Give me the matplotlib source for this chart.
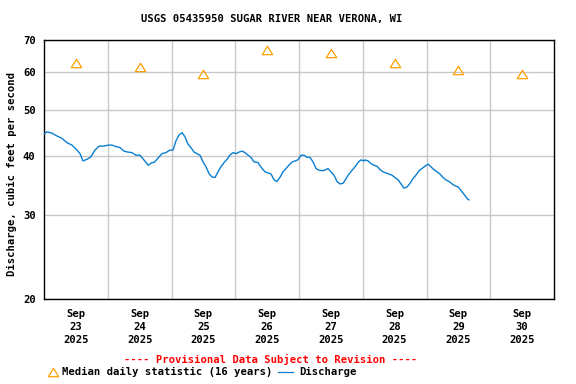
import numpy as np
import matplotlib
matplotlib.use("Agg")
import matplotlib.pyplot as plt
from matplotlib.path import Path
import matplotlib.dates as mdates

# ---- data ----
start = np.datetime64('2025-09-23T00:00')
hours = [0, 1.13, 3.01, 4.89, 6.78, 8.66, 10.54, 12.42, 13.55, 14.68, 16.19, 17.69,
         19.2, 20.7, 22.6, 24.1, 25.6, 27.1, 28.6, 30.1, 31.6, 33.1, 34.6, 36.1,
         37.6, 39.2, 40.7, 41.4, 42.9, 44.4, 45.9, 47.4, 48.6, 49.7, 50.8, 52.0,
         53.1, 54.2, 55.3, 56.5, 57.6, 58.7, 59.9, 61.0, 62.1, 63.2, 64.4, 65.5,
         66.6, 67.8, 68.9, 70.0, 71.2, 72.3, 73.4, 74.5, 75.7, 76.8, 77.9, 79.1,
         80.6, 80.9, 82.1, 83.2, 84.3, 85.5, 86.6, 87.7, 88.8, 90.0, 91.1, 92.2,
         93.4, 94.5, 95.6, 96.8, 97.9, 99.0, 100.1, 101.3, 102.4, 103.5, 104.7, 105.8,
         106.9, 108.0, 109.2, 110.3, 111.4, 112.6, 113.7, 114.8, 116.0, 117.1, 118.2,
         119.3, 120.5, 120.8, 122.0, 123.1, 124.2, 125.4, 126.5, 127.6, 128.8, 129.9,
         131.0, 132.1, 133.3, 134.4, 135.5, 136.7, 137.8, 138.9, 140.0, 141.2, 142.3,
         143.4, 144.6, 145.7, 146.8, 148.0, 149.1, 150.2, 151.3, 152.5, 153.6, 154.7,
         155.9, 157.0, 158.1, 159.3, 160.0]
discharge = [44.4, 44.9, 44.6, 44.0, 43.5, 42.6, 42.1, 41.1, 40.4, 39.0, 39.3, 39.8,
             41.1, 41.9, 41.9, 42.1, 42.1, 41.8, 41.6, 40.9, 40.7, 40.6, 40.1, 40.1,
             39.2, 38.2, 38.7, 38.7, 39.5, 40.4, 40.6, 41.1, 41.1, 43.0, 44.2, 44.7,
             43.8, 42.3, 41.6, 40.7, 40.4, 40.1, 38.8, 37.9, 36.7, 36.1, 36.0, 37.0,
             37.9, 38.7, 39.3, 40.1, 40.6, 40.4, 40.7, 40.9, 40.6, 40.1, 39.7, 38.8,
             38.7, 38.4, 37.6, 37.0, 36.8, 36.6, 35.6, 35.3, 36.0, 37.0, 37.6, 38.2,
             38.8, 39.0, 39.2, 40.1, 40.1, 39.7, 39.7, 38.8, 37.6, 37.3, 37.2, 37.3,
             37.6, 37.0, 36.4, 35.3, 34.9, 35.0, 35.8, 36.6, 37.3, 37.9, 38.7,
             39.2, 39.0, 39.2, 39.0, 38.5, 38.2, 38.0, 37.4, 37.0, 36.8, 36.6,
             36.4, 36.0, 35.6, 34.9, 34.2, 34.4, 35.0, 35.8, 36.4, 37.2, 37.6,
             38.0, 38.4, 37.9, 37.4, 37.0, 36.6, 36.0, 35.6, 35.3, 34.9, 34.6,
             34.4, 33.8, 33.2, 32.5, 32.3]
median_days = ['2025-09-23', '2025-09-24', '2025-09-25', '2025-09-26',
               '2025-09-27', '2025-09-28', '2025-09-29', '2025-09-30']
median_vals = [62.5, 61.3, 59.3, 66.6, 65.7, 62.6, 60.5, 59.3]
ytick_vals = [20, 30, 40, 50, 60, 70]
day_labels = ['Sep\n23\n2025', 'Sep\n24\n2025', 'Sep\n25\n2025', 'Sep\n26\n2025',
              'Sep\n27\n2025', 'Sep\n28\n2025', 'Sep\n29\n2025', 'Sep\n30\n2025']

# ---- style ----
FONT = 'DejaVu Sans Mono'
FS = 7.6
plt.rcParams['font.family'] = FONT
plt.rcParams['font.weight'] = 'bold'
plt.rcParams['font.size'] = FS

times = start + (np.array(hours) * 60).astype('timedelta64[m]')
mtimes = mdates.date2num(times.astype('datetime64[s]').astype(object))
mdays = mdates.date2num([np.datetime64(d + 'T12:00').astype(object) for d in median_days])

fig = plt.figure(figsize=(5.76, 3.84), dpi=100)
ax = fig.add_axes([44/576, 1 - 299/384, 510/576, 259/384])

ax.set_yscale('log')
ax.set_ylim(20, 70)
ax.set_yticks(ytick_vals)
ax.set_yticklabels([str(v) for v in ytick_vals])
ax.yaxis.set_minor_locator(matplotlib.ticker.NullLocator())

x0 = mdates.date2num(np.datetime64('2025-09-23T00:00').astype(object))
ax.set_xlim(x0, x0 + 8)
ax.set_xticks([x0 + i for i in range(1, 8)])
ax.set_xticklabels([])
ax.set_xticks([x0 + i + 0.5 for i in range(8)], day_labels, minor=True)
ax.tick_params(which='both', length=0)
ax.tick_params(axis='y', pad=6)
ax.tick_params(axis='x', which='minor', pad=7)
for lbl in ax.get_xticklabels(minor=True):
    lbl.set_linespacing(1.38)

ax.grid(True, which='major', color='#c8c8c8', linewidth=1.0)
ax.set_axisbelow(True)
for s in ax.spines.values():
    s.set_linewidth(1.0)
    s.set_color('black')

tri = Path([(-1, -0.8), (1, -0.8), (0, 0.8), (-1, -0.8)],
           [Path.MOVETO, Path.LINETO, Path.LINETO, Path.CLOSEPOLY])

ax.plot(mtimes, discharge, color='#0b7ed0', linewidth=1.0, zorder=3)
ax.plot(mdays, median_vals, linestyle='none', marker=tri, markersize=7.5,
        markerfacecolor='none', markeredgecolor='#ff9f00', markeredgewidth=0.9, zorder=4)

fig.text(272/576, 1 - 19/384, 'USGS 05435950 SUGAR RIVER NEAR VERONA, WI',
         ha='center', va='center', fontsize=FS, fontweight='bold')
fig.text(12/576, 1 - 174/384, 'Discharge, cubic feet per second', rotation=90,
         ha='center', va='center', fontsize=FS, fontweight='bold')
fig.text(271/576, 1 - 359/384, '---- Provisional Data Subject to Revision ----',
         ha='center', va='center', color='red', fontsize=FS, fontweight='bold')

# legend
lax = fig.add_axes([0, 0, 1, 1], facecolor='none')
lax.set_xlim(0, 576)
lax.set_ylim(384, 0)
lax.axis('off')
lax.plot([53], [372], linestyle='none', marker=tri, markersize=7.5,
         markerfacecolor='none', markeredgecolor='#ff9f00', markeredgewidth=0.9)
lax.plot([278, 293], [372, 372], color='#0b7ed0', linewidth=0.9)
lax.text(62, 372, 'Median daily statistic (16 years)', ha='left', va='center',
         fontsize=FS, fontweight='bold')
lax.text(299, 372, 'Discharge', ha='left', va='center', fontsize=FS, fontweight='bold')

fig.savefig('out.png', dpi=100)
